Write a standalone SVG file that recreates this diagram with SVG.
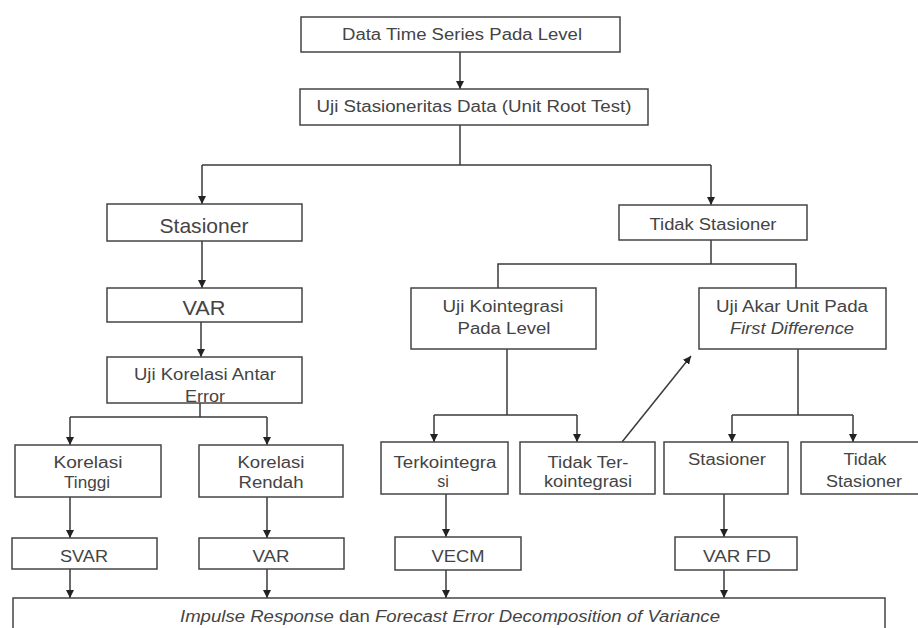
<svg xmlns="http://www.w3.org/2000/svg" width="918" height="628" viewBox="0 0 918 628">
<style>
.box{fill:#fff;stroke:#444;stroke-width:1.5}
.t{font-family:"Liberation Sans",Arial,sans-serif;font-size:16px;fill:#444;text-anchor:middle}
.b{font-size:21px}
.i{font-style:italic}
.c{fill:none;stroke:#3a3a3a;stroke-width:1.5}
</style>
<defs>
<marker id="ah" markerUnits="userSpaceOnUse" markerWidth="8" markerHeight="8" refX="8" refY="4" orient="auto">
<path d="M0,0 L8,4 L0,8 z" fill="#222"/>
</marker>
</defs>
<rect width="918" height="628" fill="#fff"/>
<g id="connectors">
<line class="c" x1="460" y1="52" x2="460" y2="89" marker-end="url(#ah)"/>
<polyline class="c" points="460,125 460,165"/>
<line class="c" x1="202" y1="165" x2="711" y2="165"/>
<line class="c" x1="202" y1="165" x2="202" y2="204" marker-end="url(#ah)"/>
<line class="c" x1="711" y1="165" x2="711" y2="205" marker-end="url(#ah)"/>
<line class="c" x1="202" y1="241" x2="202" y2="288" marker-end="url(#ah)"/>
<line class="c" x1="201" y1="322" x2="201" y2="357" marker-end="url(#ah)"/>
<line class="c" x1="200" y1="403" x2="200" y2="417"/>
<line class="c" x1="70" y1="417" x2="267" y2="417"/>
<line class="c" x1="70" y1="417" x2="70" y2="445" marker-end="url(#ah)"/>
<line class="c" x1="267" y1="417" x2="267" y2="445" marker-end="url(#ah)"/>
<line class="c" x1="70" y1="497" x2="70" y2="538" marker-end="url(#ah)"/>
<line class="c" x1="267" y1="497" x2="267" y2="538" marker-end="url(#ah)"/>
<line class="c" x1="70" y1="569" x2="70" y2="598" marker-end="url(#ah)"/>
<line class="c" x1="267" y1="569" x2="267" y2="598" marker-end="url(#ah)"/>
<line class="c" x1="711" y1="240" x2="711" y2="264"/>
<polyline class="c" points="498,288 498,264 796,264 796,288"/>
<line class="c" x1="507" y1="349" x2="507" y2="415"/>
<line class="c" x1="434" y1="415" x2="577" y2="415"/>
<line class="c" x1="434" y1="415" x2="434" y2="442" marker-end="url(#ah)"/>
<line class="c" x1="577" y1="415" x2="577" y2="442" marker-end="url(#ah)"/>
<line class="c" x1="798" y1="349" x2="798" y2="415"/>
<line class="c" x1="732" y1="415" x2="853" y2="415"/>
<line class="c" x1="732" y1="415" x2="732" y2="442" marker-end="url(#ah)"/>
<line class="c" x1="853" y1="415" x2="853" y2="442" marker-end="url(#ah)"/>
<line class="c" x1="622" y1="442" x2="691" y2="356" marker-end="url(#ah)"/>
<line class="c" x1="446" y1="494" x2="446" y2="537" marker-end="url(#ah)"/>
<line class="c" x1="446" y1="570" x2="446" y2="598" marker-end="url(#ah)"/>
<line class="c" x1="724" y1="494" x2="724" y2="537" marker-end="url(#ah)"/>
<line class="c" x1="724" y1="570" x2="724" y2="598" marker-end="url(#ah)"/>
</g>
<g id="n-data">
<rect class="box" x="301" y="17" width="319" height="35"/>
<text class="t" x="462" y="40" textLength="240" lengthAdjust="spacingAndGlyphs">Data Time Series Pada Level</text>
</g>
<g id="n-uji-stasioneritas">
<rect class="box" x="300" y="89" width="348" height="36"/>
<text class="t" x="474" y="112" textLength="315" lengthAdjust="spacingAndGlyphs">Uji Stasioneritas Data (Unit Root Test)</text>
</g>
<g id="n-stasioner">
<rect class="box" x="107" y="204" width="195" height="37"/>
<text class="t b" x="204" y="233" textLength="89" lengthAdjust="spacingAndGlyphs">Stasioner</text>
</g>
<g id="n-var">
<rect class="box" x="107" y="288" width="195" height="34"/>
<text class="t b" x="204" y="315" textLength="43" lengthAdjust="spacingAndGlyphs">VAR</text>
</g>
<g id="n-uji-korelasi">
<rect class="box" x="107" y="357" width="195" height="46"/>
<text class="t" x="205" y="380" textLength="142" lengthAdjust="spacingAndGlyphs">Uji Korelasi Antar</text>
<text class="t" x="205" y="402" textLength="40" lengthAdjust="spacingAndGlyphs">Error</text>
</g>
<g id="n-korelasi-tinggi">
<rect class="box" x="15" y="445" width="146" height="52"/>
<text class="t" x="88" y="468" textLength="69" lengthAdjust="spacingAndGlyphs">Korelasi</text>
<text class="t" x="87" y="488" textLength="46" lengthAdjust="spacingAndGlyphs">Tinggi</text>
</g>
<g id="n-korelasi-rendah">
<rect class="box" x="199" y="445" width="144" height="52"/>
<text class="t" x="271" y="468" textLength="67" lengthAdjust="spacingAndGlyphs">Korelasi</text>
<text class="t" x="271" y="488" textLength="65" lengthAdjust="spacingAndGlyphs">Rendah</text>
</g>
<g id="n-svar">
<rect class="box" x="12" y="538" width="145" height="31"/>
<text class="t" x="84" y="562" textLength="48" lengthAdjust="spacingAndGlyphs">SVAR</text>
</g>
<g id="n-var2">
<rect class="box" x="199" y="538" width="145" height="31"/>
<text class="t" x="271" y="562" textLength="37" lengthAdjust="spacingAndGlyphs">VAR</text>
</g>
<g id="n-tidak-stasioner">
<rect class="box" x="619" y="205" width="188" height="35"/>
<text class="t" x="713" y="230" textLength="127" lengthAdjust="spacingAndGlyphs">Tidak Stasioner</text>
</g>
<g id="n-uji-kointegrasi">
<rect class="box" x="411" y="288" width="185" height="61"/>
<text class="t" x="503" y="312" textLength="121" lengthAdjust="spacingAndGlyphs">Uji Kointegrasi</text>
<text class="t" x="504" y="334" textLength="93" lengthAdjust="spacingAndGlyphs">Pada Level</text>
</g>
<g id="n-uji-akar">
<rect class="box" x="699" y="288" width="187" height="61"/>
<text class="t" x="792" y="312" textLength="152" lengthAdjust="spacingAndGlyphs">Uji Akar Unit Pada</text>
<text class="t i" x="792" y="334" textLength="124" lengthAdjust="spacingAndGlyphs">First Difference</text>
</g>
<g id="n-terkointegrasi">
<rect class="box" x="381" y="442" width="127" height="52"/>
<text class="t" x="445" y="468" textLength="103" lengthAdjust="spacingAndGlyphs">Terkointegra</text>
<text class="t" x="443" y="487">si</text>
</g>
<g id="n-tidak-terkointegrasi">
<rect class="box" x="520" y="442" width="135" height="52"/>
<text class="t" x="588" y="468" textLength="81" lengthAdjust="spacingAndGlyphs">Tidak Ter-</text>
<text class="t" x="588" y="487" textLength="88" lengthAdjust="spacingAndGlyphs">kointegrasi</text>
</g>
<g id="n-stasioner-fd">
<rect class="box" x="664" y="442" width="124" height="52"/>
<text class="t" x="727" y="465" textLength="78" lengthAdjust="spacingAndGlyphs">Stasioner</text>
</g>
<g id="n-tidak-stasioner-fd">
<rect class="box" x="801" y="442" width="130" height="52"/>
<text class="t" x="865" y="465" textLength="43" lengthAdjust="spacingAndGlyphs">Tidak</text>
<text class="t" x="864" y="487" textLength="76" lengthAdjust="spacingAndGlyphs">Stasioner</text>
</g>
<g id="n-vecm">
<rect class="box" x="395" y="537" width="126" height="33"/>
<text class="t" x="458" y="562" textLength="53" lengthAdjust="spacingAndGlyphs">VECM</text>
</g>
<g id="n-var-fd">
<rect class="box" x="675" y="537" width="122" height="33"/>
<text class="t" x="737" y="562" textLength="68" lengthAdjust="spacingAndGlyphs">VAR FD</text>
</g>
<g id="n-impulse">
<rect class="box" x="13" y="598" width="872" height="40"/>
<text class="t" x="450" y="622" textLength="540" lengthAdjust="spacingAndGlyphs"><tspan class="i">Impulse Response</tspan> dan <tspan class="i">Forecast Error Decomposition of Variance</tspan></text>
</g>
</svg>
